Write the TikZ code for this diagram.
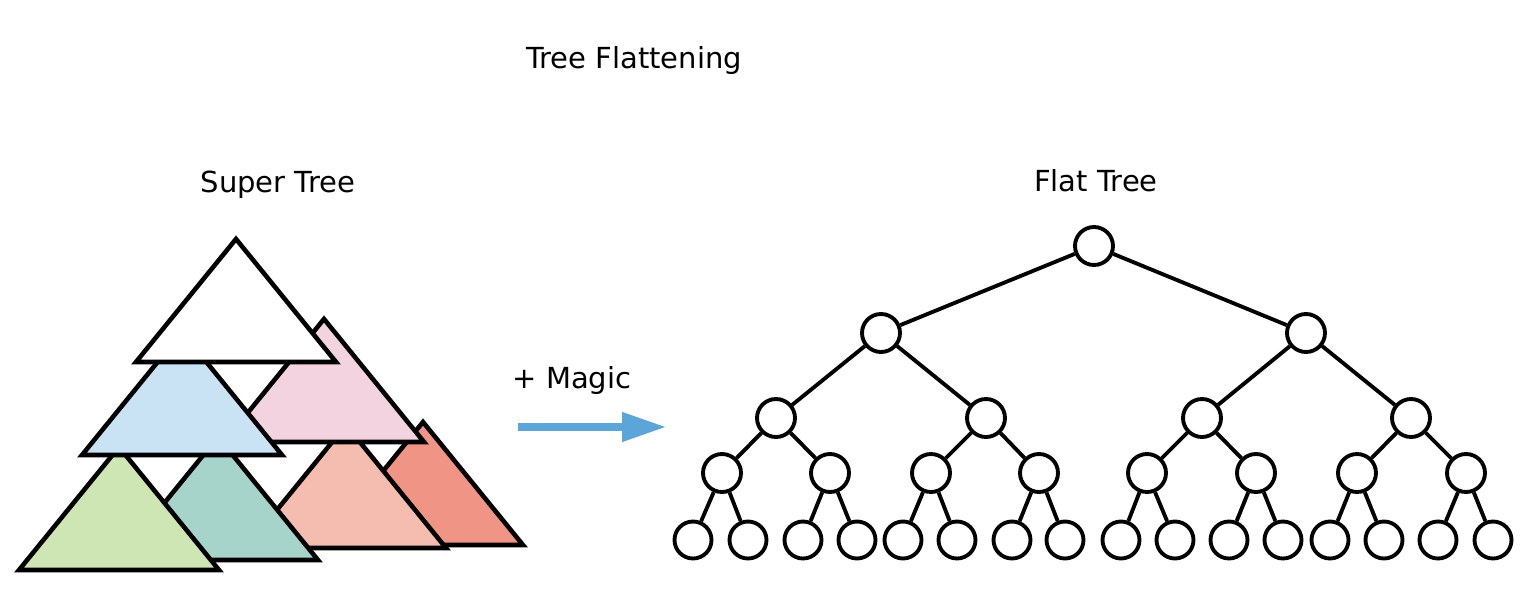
\documentclass[tikz,border=0pt]{standalone}
\usepackage{fontspec}
\setmainfont{DejaVu Sans}
\usetikzlibrary{arrows.meta}
\definecolor{tblue}{HTML}{C9E3F5}
\definecolor{tpink}{HTML}{F3D3DF}
\definecolor{tgreen}{HTML}{CDE6B3}
\definecolor{tteal}{HTML}{A7D4CA}
\definecolor{tsalmon}{HTML}{F4BDB0}
\definecolor{tred}{HTML}{F09585}
\definecolor{arrowblue}{HTML}{5BA5D9}
\tikzset{
  tristyle/.style={draw=black, line width=2.6pt, line join=miter},
  tnode/.style={circle, draw=black, line width=2.2pt, fill=white, minimum size=0.76cm, inner sep=0pt},
  leaf/.style={tnode, minimum size=0.74cm},
  tedge/.style={draw=black, line width=2.2pt},
  label/.style={font=\fontsize{16.5pt}{20pt}\selectfont, anchor=base, inner sep=0pt}
}
\newcommand\drawtri[3]{\filldraw[tristyle, fill=#3] (#1-100,#2) -- (#1,#2-123) -- (#1+100,#2) -- cycle;}
\begin{document}
\begin{tikzpicture}[x=0.02cm, y=-0.02cm]
\useasboundingbox (0,0) rectangle (1536,602);
% titles
\node[label] (title) at (634,68) {Tree Flattening};
\node[label] (super) at (278,192) {Super Tree};
\node[label] (flat) at (1096,191) {Flat Tree};
\node[label] (magic) at (572,388) {+ Magic};
% super tree triangles (back to front)
\drawtri{423}{545}{tred}
\drawtri{346}{548}{tsalmon}
\drawtri{324}{442}{tpink}
\drawtri{218}{560}{tteal}
\drawtri{119}{570}{tgreen}
\drawtri{182}{455}{tblue}
\drawtri{236}{362}{white}
% arrow
\coordinate (as) at (518,427);
\coordinate (ae) at (666,427);
\draw[arrowblue, line width=4pt, -{Triangle[length=25pt, width=16pt]}] (as) -- (ae);
% flat tree
\node[tnode] (r) at (1094,246) {};
\node[tnode] (a1) at (881,333) {};
\node[tnode] (a2) at (1306,333) {};
\foreach \x [count=\i] in {776,986,1202,1411}
  \node[tnode] (b\i) at (\x,418) {};
\foreach \x [count=\i] in {722,830,931,1039,1147,1256,1357,1466}
  \node[tnode] (c\i) at (\x,473) {};
\foreach \x [count=\i] in {693,748,803,857,903,957,1012,1065,1121,1175,1229,1283,1330,1384,1438,1493}
  \node[leaf] (d\i) at (\x,540) {};
\draw[tedge] (r) -- (a1);
\draw[tedge] (r) -- (a2);
\foreach \p/\c in {1/1,1/2,2/3,2/4}
  \draw[tedge] (a\p) -- (b\c);
\foreach \p/\c in {1/1,1/2,2/3,2/4,3/5,3/6,4/7,4/8}
  \draw[tedge] (b\p) -- (c\c);
\foreach \p/\c in {1/1,1/2,2/3,2/4,3/5,3/6,4/7,4/8,5/9,5/10,6/11,6/12,7/13,7/14,8/15,8/16}
  \draw[tedge] (c\p) -- (d\c);
\end{tikzpicture}
\end{document}
